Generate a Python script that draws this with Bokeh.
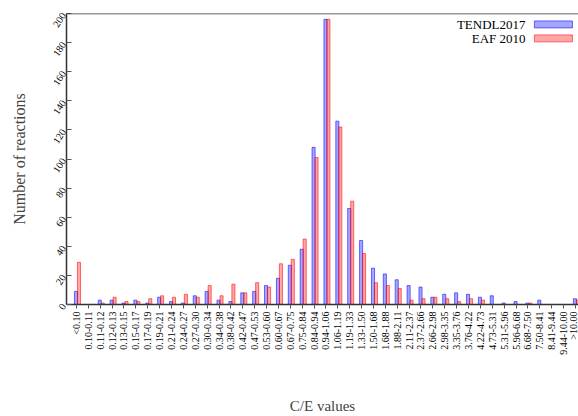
import math
from bokeh.plotting import figure
from bokeh.models import Range1d, FixedTicker, Span, Label, ColumnDataSource
from bokeh.embed import file_html
from bokeh.resources import INLINE

categories = ["<0.10", "0.10-0.11", "0.11-0.12", "0.12-0.13", "0.13-0.15", "0.15-0.17",
              "0.17-0.19", "0.19-0.21", "0.21-0.24", "0.24-0.27", "0.27-0.30", "0.30-0.34",
              "0.34-0.38", "0.38-0.42", "0.42-0.47", "0.47-0.53", "0.53-0.60", "0.60-0.67",
              "0.67-0.75", "0.75-0.84", "0.84-0.94", "0.94-1.06", "1.06-1.19", "1.19-1.33",
              "1.33-1.50", "1.50-1.68", "1.68-1.88", "1.88-2.11", "2.11-2.37", "2.37-2.66",
              "2.66-2.98", "2.98-3.35", "3.35-3.76", "3.76-4.22", "4.22-4.73", "4.73-5.31",
              "5.31-5.96", "5.96-6.68", "6.68-7.50", "7.50-8.41", "8.41-9.44", "9.44-10.00",
              ">10.00"]
tendl2017 = [9, 0, 3, 3, 1, 3, 1, 5, 2, 1, 6, 9, 3, 2, 8, 9, 13, 18, 27, 38,
             108, 196, 126, 66, 44, 25, 21, 17, 13, 12, 5, 7, 8, 7, 5, 6, 1, 2, 1, 3,
             0, 0, 4]
eaf2010 = [29, 0, 1, 5, 2, 2, 4, 6, 5, 7, 5, 13, 6, 14, 8, 15, 12, 28, 31, 45,
           101, 196, 122, 71, 35, 15, 13, 11, 3, 4, 5, 4, 2, 4, 3, 0, 0, 0, 1, 0,
           0, 0, 3]
y_ticks = [0, 20, 40, 60, 80, 100, 120, 140, 160, 180, 200]
series_names = ["TENDL2017", "EAF 2010"]

idx = list(range(len(categories)))
src = ColumnDataSource(dict(
    x_b=[i - 0.04 for i in idx],
    x_r=[i + 0.21 for i in idx],
    tendl=tendl2017,
    eaf=eaf2010,
))

FONT = "Liberation Serif"

p = figure(width=578, height=416, output_backend="svg", toolbar_location=None,
           x_range=Range1d(-0.84, 42.26), y_range=Range1d(0, 200),
           min_border_left=66, min_border_right=0, min_border_top=13,
           min_border_bottom=111)
p.outline_line_color = None
p.grid.visible = False
p.background_fill_color = "white"

p.vbar(x="x_b", top="tendl", width=0.26, source=src,
       fill_color="blue", fill_alpha=0.35, line_color="blue", line_alpha=0.55, line_width=1)
p.vbar(x="x_r", top="eaf", width=0.26, source=src,
       fill_color="red", fill_alpha=0.35, line_color="red", line_alpha=0.55, line_width=1)

# top border
p.add_layout(Span(location=200, dimension="width", line_color="#333333", line_width=1.5))

xa = p.xaxis[0]
xa.ticker = FixedTicker(ticks=idx)
xa.major_label_overrides = {i: c for i, c in enumerate(categories)}
xa.major_label_orientation = math.pi / 2
xa.major_label_text_font = FONT
xa.major_label_text_font_size = "10px"
xa.major_label_text_color = "black"
xa.major_label_standoff = 3
xa.major_tick_in = 0
xa.major_tick_out = 4
xa.minor_tick_line_color = None
xa.axis_line_color = "#333333"
xa.axis_line_width = 1.5
xa.major_tick_line_color = "#555555"
xa.axis_label = "C/E values"
xa.axis_label_text_font = FONT
xa.axis_label_text_font_size = "15px"
xa.axis_label_text_font_style = "normal"
xa.axis_label_standoff = 40

ya = p.yaxis[0]
ya.ticker = FixedTicker(ticks=y_ticks)
ya.major_label_orientation = 1.0
ya.major_label_text_font = FONT
ya.major_label_text_font_size = "10px"
ya.major_label_text_color = "black"
ya.major_label_standoff = 3
ya.major_tick_in = 5
ya.major_tick_out = 0
ya.minor_tick_line_color = None
ya.axis_line_color = "#333333"
ya.axis_line_width = 1.5
ya.major_tick_line_color = "#555555"
ya.axis_label = "Number of reactions"
ya.axis_label_text_font = FONT
ya.axis_label_text_font_size = "16px"
ya.axis_label_text_font_style = "normal"
ya.axis_label_standoff = 19

# custom legend: label on the left, swatch on the right (top right corner)
leg_colors = ["blue", "red"]
for k, (name, col) in enumerate(zip(series_names, leg_colors)):
    yy = 192.5 - k * 9.6
    p.add_layout(Label(x=37.8, y=yy, text=name, text_align="right",
                       text_baseline="middle", text_font=FONT,
                       text_font_style="normal",
                       text_font_size="13px", text_color="black"))
    p.quad(left=[38.55], right=[41.75], bottom=[yy - 2.4], top=[yy + 2.4],
           fill_color=col, fill_alpha=0.35, line_color=col, line_alpha=0.55)

open("out.html", "w").write(file_html(p, INLINE))
